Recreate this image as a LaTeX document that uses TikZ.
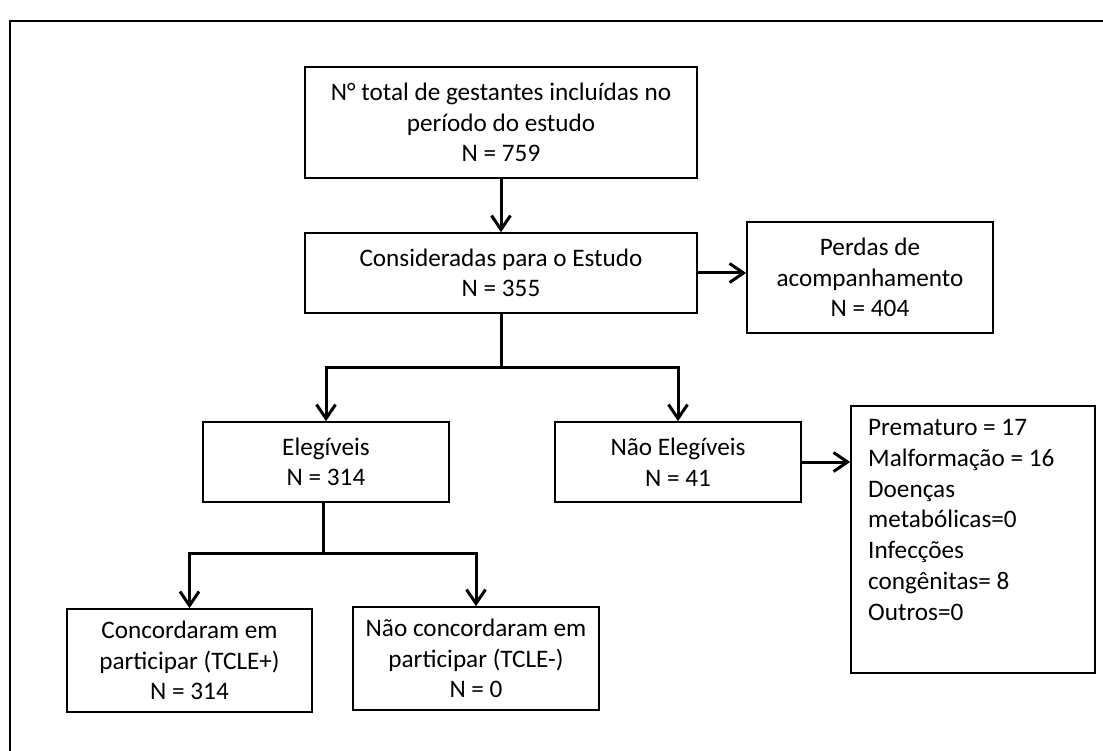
\documentclass[tikz,border=0pt]{standalone}
\usepackage{fontspec}
\setmainfont{Carlito}
\usetikzlibrary{arrows.meta}
\begin{document}
\begin{tikzpicture}[x=1pt,y=-1pt,
  box/.style={draw=black, line width=1.6pt, rectangle, inner sep=0pt, align=center,
    font=\fontsize{25.2}{30.5}\selectfont},
  conn/.style={line width=3pt},
  arr/.style={conn, -{Straight Barb[length=14pt,width=19pt,line width=3pt]}}]
\useasboundingbox[fill=white] (0,0) rectangle (1103,751);
\draw[line width=2pt] (10,751) -- (10,21) -- (1103,21);
\node[box, minimum width=392pt, minimum height=111pt] (total) at (501,122.5)
  {N° total de gestantes incluídas no\\período do estudo\\N = 759};
\node[box, minimum width=392pt, minimum height=80pt] (cons) at (501,273)
  {Consideradas para o Estudo\\N = 355};
\node[box, minimum width=246pt, minimum height=111pt] (perdas) at (870,277.5)
  {Perdas de\\acompanhamento\\N = 404};
\node[box, minimum width=246pt, minimum height=80pt] (eleg) at (326,462)
  {Elegíveis\\N = 314};
\node[box, minimum width=246pt, minimum height=80pt] (naoeleg) at (678,462)
  {Não Elegíveis\\N = 41};
\node[box, minimum width=245pt, minimum height=103pt] (conc) at (189.5,660.5)
  {Concordaram em\\participar (TCLE+)\\N = 314};
\node[box, minimum width=246pt, minimum height=103pt] (naoconc) at (476,658.5)
  {Não concordaram em\\participar (TCLE-)\\N = 0};
\node[box, minimum width=244pt, minimum height=267pt] (motivos) at (973,539.5) {};
\node[anchor=north west, inner sep=0pt, align=left,
  font=\fontsize{25.2}{30.8}\selectfont] (motivostxt) at (868,419)
  {Prematuro = 17\\Malformação = 16\\Doenças\\metabólicas=0\\Infecções\\congênitas= 8\\Outros=0};
\coordinate (split1) at (501,367);
\coordinate (split2) at (323,553);
\draw[arr] (total.south) -- (cons.north);
\draw[arr] (cons.east) -- (perdas.west |- cons.east);
\draw[conn] (cons.south) -- (split1);
\draw[arr] (split1) -| (eleg.north);
\draw[arr] (split1) -| (naoeleg.north);
\draw[arr] (naoeleg.east) -- (motivos.west |- naoeleg.east);
\draw[conn] (eleg.south -| split2) -- (split2);
\draw[arr] (split2) -| (conc.north);
\draw[arr] (split2) -| (naoconc.north);
\end{tikzpicture}
\end{document}
